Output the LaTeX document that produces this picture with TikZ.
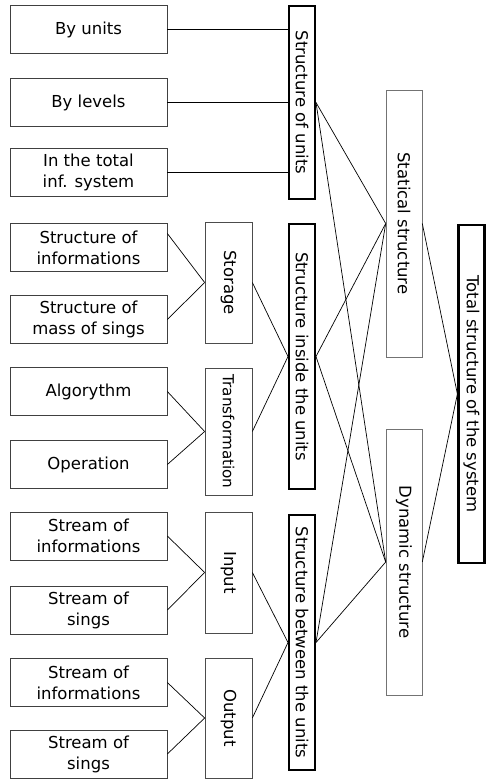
\documentclass[tikz,border=0pt]{standalone}
\usepackage{fontspec}
\setsansfont{DejaVu Sans}
\usepackage{tikz}

\begin{document}
\begin{tikzpicture}[
		x=1pt, y=-1pt,
		every node/.style={draw, inner sep=1pt, font=\sffamily\fontsize{16.5}{21}\selectfont},
		leaf/.style={line width=0.7pt, draw=black!75, minimum width=157, minimum height=48, align=center},
		part/.style={line width=0.7pt, draw=black!70, minimum width=47},
		unit/.style={line width=2pt, minimum width=26},
		kind/.style={line width=0.6pt, draw=black!55, minimum width=36},
		whole/.style={line width=2.2pt, minimum width=26},
		link/.style={line width=0.7pt}]
		\useasboundingbox (0,0) rectangle (486,782);

		% left column
		\node[leaf] (bu)     at (88.5, 29.5) {By units};
		\node[leaf] (bl)     at (88.5,102.5) {By levels};
		\node[leaf] (tis)    at (88.5,172.5) {In the total\\inf. system};
		\node[leaf] (sinf)   at (88.5,247.5) {Structure of\\informations};
		\node[leaf] (smass)  at (88.5,319.5) {Structure of\\mass of sings};
		\node[leaf] (alg)    at (88.5,391.5) {Algorythm};
		\node[leaf] (op)     at (88.5,464.5) {Operation};
		\node[leaf] (stinf)  at (88.5,536.0) {Stream of\\informations};
		\node[leaf] (stsg)   at (88.5,610.0) {Stream of\\sings};
		\node[leaf] (otinf)  at (88.5,682.5) {Stream of\\informations};
		\node[leaf] (otsg)   at (88.5,754.0) {Stream of\\sings};

		\node[part, minimum height=121] (sto)  at (228.5,282.5) {\rotatebox{-90}{Storage}};
		\node[part, minimum height=127, font=\sffamily\fontsize{15.2}{18}\selectfont] (tra) at (228.5,431.5) {\rotatebox{-90}{Transformation}};
		\node[part, minimum height=121] (inp)  at (228.5,572.5) {\rotatebox{-90}{Input}};
		\node[part, minimum height=120] (outp) at (228.5,718.0) {\rotatebox{-90}{Output}};

		\node[unit, minimum height=193] (su)  at (302,102.5) {\rotatebox{-90}{Structure of units}};
		\node[unit, minimum height=265] (sin) at (302,356.5) {\rotatebox{-90}{Structure inside the units}};
		\node[unit, minimum height=255] (sbt) at (302,642.5) {\rotatebox{-90}{Structure between the units}};

		\node[kind, minimum height=267] (st) at (404,223.5) {\rotatebox{-90}{Statical structure}};
		\node[kind, minimum height=266] (dy) at (404,562.0) {\rotatebox{-90}{Dynamic structure}};

		\node[whole, minimum height=338] (ts) at (471.5,394) {\rotatebox{-90}{Total structure of the system}};

		\draw[link] (bu.east)  -- (bu.east -| su.west);
		\draw[link] (bl.east)  -- (bl.east -| su.west);
		\draw[link] (tis.east) -- (tis.east -| su.west);

		\draw[link] ([yshift=14pt]sinf.east) -- (sto.west);
		\draw[link] (smass.east) -- (sto.west);
		\draw[link] (alg.east)   -- (tra.west);
		\draw[link] (op.east)    -- (tra.west);
		\draw[link] (stinf.east) -- (inp.west);
		\draw[link] (stsg.east)  -- (inp.west);
		\draw[link] (otinf.east) -- (outp.west);
		\draw[link] (otsg.east)  -- (outp.west);

		\draw[link] (sto.east)  -- (sin.west);
		\draw[link] (tra.east)  -- (sin.west);
		\draw[link] (inp.east)  -- (sbt.west);
		\draw[link] (outp.east) -- (sbt.west);

		\draw[link] (su.east)  -- (st.west);
		\draw[link] (su.east)  -- (dy.west);
		\draw[link] (sin.east) -- (st.west);
		\draw[link] (sin.east) -- (dy.west);
		\draw[link] (sbt.east) -- (st.west);
		\draw[link] (sbt.east) -- (dy.west);

		\draw[link] (st.east) -- (ts.west);
		\draw[link] (dy.east) -- (ts.west);
\end{tikzpicture}
\end{document}
